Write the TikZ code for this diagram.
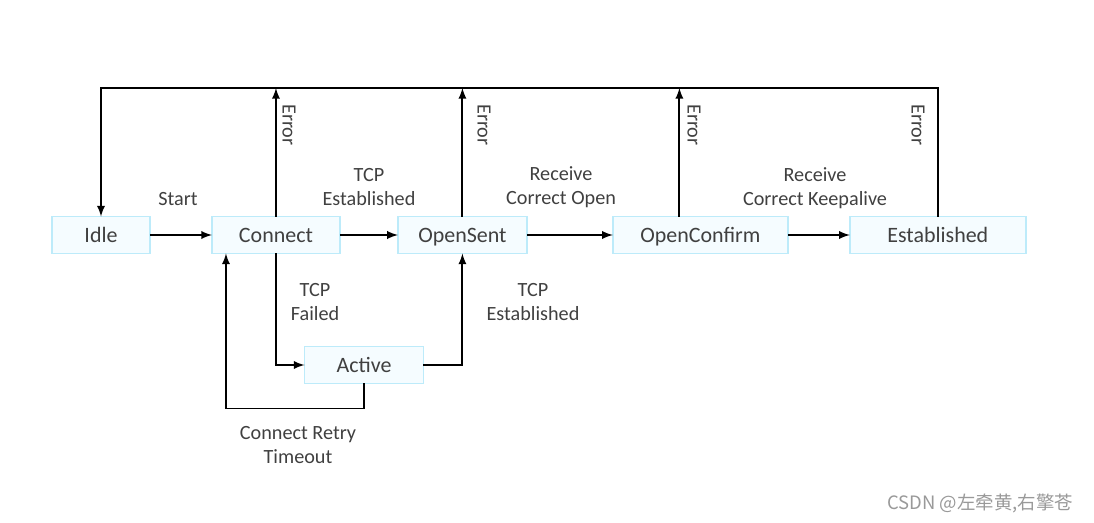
\documentclass[tikz,border=0pt]{standalone}
\usepackage{fontspec}
\setmainfont{Carlito}
\newfontfamily\cjk{Noto Sans CJK SC}
\usetikzlibrary{
  positioning,
  arrows
}
\definecolor{boxline}{HTML}{BDEBFA}
\definecolor{boxfill}{HTML}{F5FCFF}
\definecolor{txt}{HTML}{404040}

\begin{document}
\begin{tikzpicture}[x=0.02cm,y=-0.02cm,>=latex,line width=1.1pt,
	state/.style={rectangle,draw=boxline,fill=boxfill,line width=0.8pt,outer sep=0pt,minimum height=0.74cm,text height=0.82em,text depth=0pt,text=txt,font=\fontsize{12.5}{15}\selectfont},
	lbl/.style={align=center,text=txt,inner sep=0pt,font=\fontsize{11.5}{13.6}\selectfont}]
		\useasboundingbox (0,0) rectangle (1094,523);
		% states
		\node[state,minimum width=1.96cm] (1) at (101,235) {Idle};
		\node[state,right=1.24cm of 1,minimum width=2.56cm] (2) {Connect};
		\node[state,right=1.16cm of 2,minimum width=2.58cm] (3) {OpenSent};
		\node[state,right=1.72cm of 3,minimum width=3.5cm] (4) {OpenConfirm};
		\node[state,right=1.24cm of 4,minimum width=3.52cm] (5) {Established};
		\node[state,minimum width=2.38cm] (6) at (364,365) {Active};
		% labels
		\node[lbl] (7) at (178,199) {Start};
		\node[lbl] (8) at (369,187) {TCP\\Established};
		\node[lbl] (9) at (561,187) {Receive\\Correct Open};
		\node[lbl] (10) at (815,188) {Receive\\Correct Keepalive};
		\node[lbl] (11) at (315,302) {TCP\\Failed};
		\node[lbl] (12) at (533,302) {TCP\\Established};
		\node[lbl] (13) at (298,445) {Connect Retry\\Timeout};
		\node[lbl,rotate=-90] (14) at (289,125) {Error};
		\node[lbl,rotate=-90] (15) at (484,125) {Error};
		\node[lbl,rotate=-90] (16) at (694,125) {Error};
		\node[lbl,rotate=-90] (17) at (918,125) {Error};
		\node[text=black!40,font=\cjk\fontsize{10.5}{12}\selectfont,anchor=east] (18) at (1080,503) {CSDN @左牵黄,右擎苍};

		\coordinate (top) at (100,88);
		\coordinate (e4) at ([xshift=-0.42cm]4.north);
		\draw [->] (1) -- (2);
		\draw [->] (2) -- (3);
		\draw [->] (3) -- (4);
		\draw [->] (4) -- (5);
		\draw [->] (2.north) -- (2.north |- top);
		\draw [->] (3.north) -- (3.north |- top);
		\draw [->] (e4) -- (e4 |- top);
		\draw [->] (5.north) -- (5.north |- top) -- (1.north |- top) -- (1.north);
		\draw [->] (2.south) |- (6.west);
		\draw [->] (6.east) -| (3.south);
		\draw [->] (6.south) -- ++(0,25) -| ([xshift=-1cm]2.south);
	\end{tikzpicture}
\end{document}
